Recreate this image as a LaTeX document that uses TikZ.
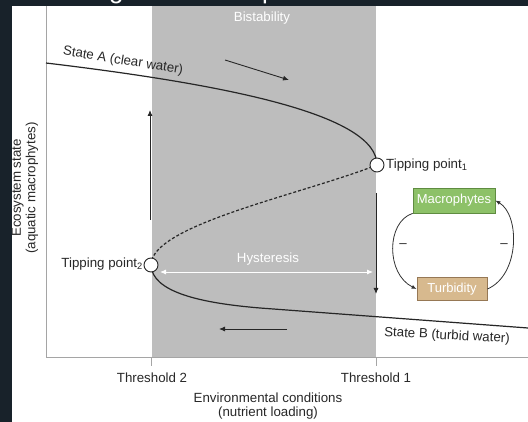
\documentclass[tikz,border=0pt]{standalone}
\usepackage{fontspec}
\setmainfont{Liberation Sans}
\usetikzlibrary{arrows.meta}
\definecolor{darkbg}{RGB}{24,34,42}
\definecolor{bandgray}{RGB}{189,189,189}
\definecolor{axisgray}{RGB}{165,165,165}
\definecolor{txt}{RGB}{40,40,40}
\definecolor{macgreen}{RGB}{141,193,104}
\definecolor{macedge}{RGB}{95,140,65}
\definecolor{turtan}{RGB}{215,185,142}
\definecolor{turedge}{RGB}{150,120,85}
\begin{document}
\begin{tikzpicture}[x=1pt,y=-1pt,
  lbl/.style={font=\fontsize{13.3}{14.5}\selectfont, text=txt, inner sep=0pt},
  wlbl/.style={font=\fontsize{13.3}{14.5}\selectfont, text=white, inner sep=0pt},
  curve/.style={line width=1.2pt, draw=black!85},
  arr/.style={line width=0.9pt, draw=black!85, -{Latex[length=6pt,width=5pt]}},
  tip/.style={circle, draw=black!85, fill=white, line width=0.9pt, minimum size=14pt, inner sep=0pt},
  fbox/.style={draw, line width=0.8pt, minimum height=25pt, inner sep=0pt, font=\fontsize{13}{14}\selectfont, text=white},
  fb/.style={line width=0.8pt, draw=black!80, -{Latex[length=5pt,width=4pt]}},
]
\useasboundingbox (0,0) rectangle (528,422);
\fill[white] (0,0) rectangle (528,422);
% bistability band
\fill[bandgray] (151.5,6) rectangle (376,357);
% axes
\draw[axisgray, line width=0.8pt] (46,6) -- (46,357) -- (528,357);
\draw[axisgray, line width=0.8pt] (151.5,357) -- (151.5,366);
\draw[axisgray, line width=0.8pt] (376,357) -- (376,366);
% key points
\coordinate (sA) at (46,63);
\coordinate (sB) at (528,328);
\coordinate (p1) at (377,165);
\coordinate (p2) at (151,265);
% curves
\draw[curve] (sA) .. controls (230,85) and (377,115) .. (p1);
\draw[curve, dashed, dash pattern=on 3pt off 2pt] (p2) .. controls (151,225) and (300,195) .. (p1);
\draw[curve] (p2) .. controls (152,292) and (200,303) .. (260,308) -- (sB);
% tipping points
\node[tip] (t1) at (p1) {};
\node[tip] (t2) at (p2) {};
\node[lbl, anchor=west] (t1l) at (386,165) {Tipping point\textsubscript{1}};
\node[lbl, anchor=east] (t2l) at (143,264) {Tipping point\textsubscript{2}};
% arrows
\coordinate (u1) at (150,220); \coordinate (u2) at (150,110);
\draw[arr] (u1) -- (u2);
\coordinate (d1) at (376,193); \coordinate (d2) at (376,294);
\draw[arr] (d1) -- (d2);
\coordinate (a1) at (225,60); \coordinate (a2) at (289,80);
\draw[arr] (a1) -- (a2);
\coordinate (b1) at (287,329); \coordinate (b2) at (219,329);
\draw[arr] (b1) -- (b2);
% hysteresis
\coordinate (hl) at (160,272); \coordinate (hr) at (373,272);
\draw[white, line width=0.9pt, {Latex[length=6pt,width=5pt]}-{Latex[length=6pt,width=5pt]}] (hl) -- (hr);
\node[wlbl] (hys) at (268,259) {Hysteresis};
\node[wlbl] (bis) at (262,18) {Bistability};
% state labels
\node[lbl, rotate=-9] (stA) at (123,61) {State A (clear water)};
\node[lbl, rotate=-3] (stB) at (447,336) {State B (turbid water)};
% axis labels
\node[lbl] (th2) at (152,378) {Threshold 2};
\node[lbl] (th1) at (376,378) {Threshold 1};
\node[lbl, align=center] (xl) at (268,406) {Environmental conditions\\(nutrient loading)};
\node[lbl, rotate=90, align=center] (yl) at (25,188) {Ecosystem state\\(aquatic macrophytes)};
% feedback loop
\node[fbox, fill=macgreen, draw=macedge, minimum width=82pt] (mac) at (454,200.5) {Macrophytes};
\node[fbox, fill=turtan, draw=turedge, minimum width=70pt, minimum height=23pt] (tur) at (452,289) {Turbidity};
\draw[fb] (mac.south west) .. controls (386,222) and (386,274) .. (tur.west);
\draw[fb] (tur.east) .. controls (520,275) and (520,215) .. (mac.east);
\node[lbl] (m1) at (403,246) {–};
\node[lbl] (m2) at (504,246) {–};
% dark frame
\fill[darkbg] (0,0) rectangle (528,6);
\fill[darkbg] (0,0) rectangle (12,422);
\begin{scope}
\clip (0,0) rectangle (528,6);
\node[anchor=base west, text=white, inner sep=0pt, font=\fontsize{26}{26}\selectfont] (tg) at (109,-1) {g};
\node[anchor=base west, text=white, inner sep=0pt, font=\fontsize{26}{26}\selectfont] (tp) at (262,-1) {p};
\end{scope}
\end{tikzpicture}
\end{document}
